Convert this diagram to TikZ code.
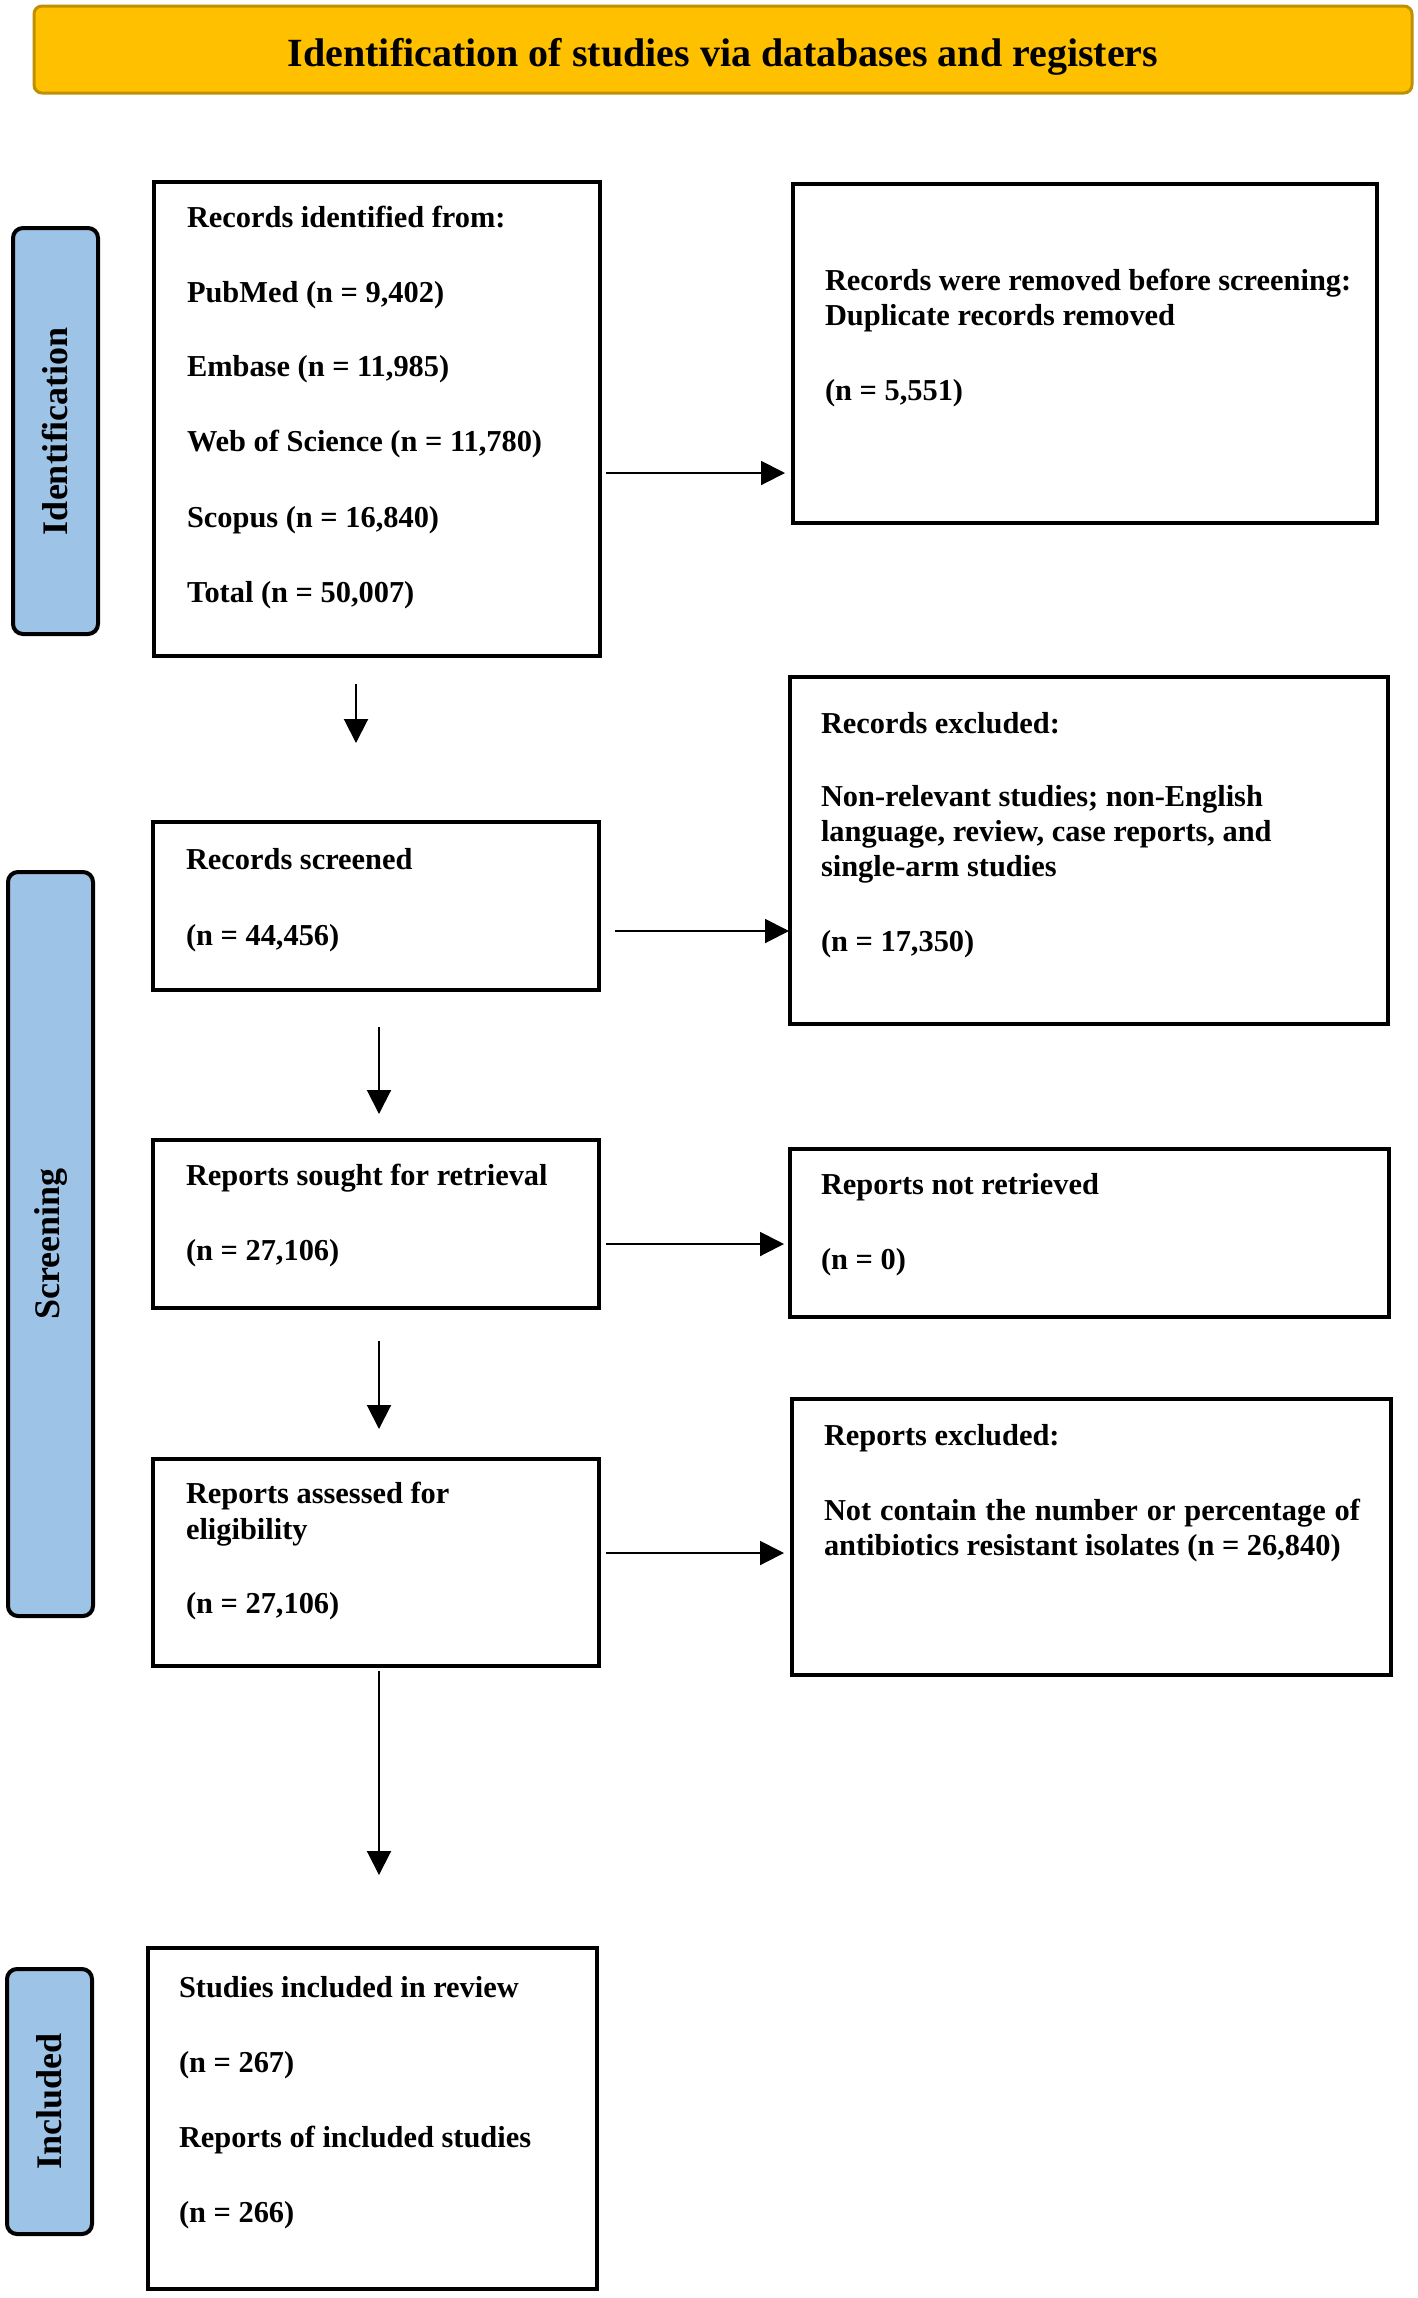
\documentclass[tikz,border=0pt]{standalone}
\usepackage{fontspec}
\setmainfont{Liberation Serif}
\usetikzlibrary{arrows.meta,fit}
\definecolor{titlefill}{HTML}{FFC000}
\definecolor{titleedge}{HTML}{BF9000}
\definecolor{stagefill}{HTML}{9DC3E6}
\begin{document}
\begin{tikzpicture}[x=0.5pt,y=-0.5pt,
  box/.style={draw=black, line width=1.75pt, inner sep=0pt, outer sep=0pt},
  stagebox/.style={draw=black, line width=2pt, fill=stagefill, rounded corners=5pt, inner sep=0pt, outer sep=0pt},
  titlebox/.style={draw=titleedge, line width=1.5pt, fill=titlefill, rounded corners=4pt, inner sep=0pt, outer sep=0pt},
  txt/.style={anchor=mid west, inner sep=0pt, outer sep=0pt, yshift=-1.5pt, font=\fontsize{15.2}{18}\selectfont\bfseries},
  stagetxt/.style={rotate=90, inner sep=0pt, font=\fontsize{18}{21}\selectfont\bfseries},
  titletxt/.style={inner sep=0pt, font=\fontsize{20}{24}\selectfont\bfseries},
  arr/.style={line width=1pt, -{Triangle[length=12pt,width=12pt]}}
]
\useasboundingbox (0,0) rectangle (1418,2298);
\fill[white] (0,0) rectangle (1418,2298);

% title
\node[titlebox, fit={(34,6) (1412,93)}] (title) {};
\node[titletxt] (titlet) at (723,57) {Identification of studies via databases and registers};

% stage labels
\node[stagebox, fit={(13,228) (98,634)}] (s1) {};
\node[stagetxt] (s1t) at (s1.center) {Identification};
\node[stagebox, fit={(8,872) (93,1616)}] (s2) {};
\node[stagetxt] (s2t) at (s2.center) {Screening};
\node[stagebox, fit={(7,1969) (92,2234)}] (s3) {};
\node[stagetxt] (s3t) at (s3.center) {Included};

% left boxes
\node[box, fit={(154,182) (600,656)}] (b1) {};
\node[txt] (b1a) at (187,220) {Records identified from:};
\node[txt] (b1b) at (187,295) {PubMed (n = 9,402)};
\node[txt] (b1c) at (187,369) {Embase (n = 11,985)};
\node[txt] (b1d) at (187,444) {Web of Science (n = 11,780)};
\node[txt] (b1e) at (187,520) {Scopus (n = 16,840)};
\node[txt] (b1f) at (187,595) {Total (n = 50,007)};

\node[box, fit={(153,822) (599,990)}] (b2) {};
\node[txt] (b2a) at (186,862) {Records screened};
\node[txt] (b2b) at (186,938) {(n = 44,456)};

\node[box, fit={(153,1140) (599,1308)}] (b3) {};
\node[txt] (b3a) at (186,1178) {Reports sought for retrieval};
\node[txt] (b3b) at (186,1253) {(n = 27,106)};

\node[box, fit={(153,1459) (599,1666)}] (b4) {};
\node[txt] (b4a) at (186,1496) {Reports assessed for};
\node[txt] (b4b) at (186,1532) {eligibility};
\node[txt] (b4c) at (186,1606) {(n = 27,106)};

\node[box, fit={(148,1948) (597,2289)}] (b5) {};
\node[txt] (b5a) at (179,1990) {Studies included in review};
\node[txt] (b5b) at (179,2065) {(n = 267)};
\node[txt] (b5c) at (179,2140) {Reports of included studies};
\node[txt] (b5d) at (179,2215) {(n = 266)};

% right boxes
\node[box, fit={(793,184) (1377,523)}] (r1) {};
\node[txt] (r1a) at (825,283) {Records were removed before screening:};
\node[txt] (r1b) at (825,318) {Duplicate records removed};
\node[txt] (r1c) at (825,393) {(n = 5,551)};

\node[box, fit={(790,677) (1388,1024)}] (r2) {};
\node[txt] (r2a) at (821,726) {Records excluded:};
\node[txt] (r2b) at (821,799) {Non-relevant studies; non-English};
\node[txt] (r2c) at (821,834) {language, review, case reports, and};
\node[txt] (r2d) at (821,869) {single-arm studies};
\node[txt] (r2e) at (821,944) {(n = 17,350)};

\node[box, fit={(790,1149) (1389,1317)}] (r3) {};
\node[txt] (r3a) at (821,1187) {Reports not retrieved};
\node[txt] (r3b) at (821,1262) {(n = 0)};

\node[box, fit={(792,1399) (1391,1675)}] (r4) {};
\node[txt] (r4a) at (824,1438) {Reports excluded:};
\node[txt] (r4b) at (824,1513) {\makebox[268pt][s]{Not contain the number or percentage of}};
\node[txt] (r4c) at (824,1548) {antibiotics resistant isolates (n = 26,840)};

% connectors
\draw[arr, shorten <=3pt, shorten >=4pt] (b1.east |- 0,473) -- (r1.west |- 0,473);
\draw[arr, shorten <=14pt, shorten >=39.5pt] (b1.south -| 356,0) -- (b2.north -| 356,0);
\draw[arr, shorten <=8pt, shorten >=0.5pt] (b2.east |- 0,931) -- (r2.west |- 0,931);
\draw[arr, shorten <=18.5pt, shorten >=13pt] (b2.south -| 379,0) -- (b3.north -| 379,0);
\draw[arr, shorten <=3.5pt, shorten >=3pt] (b3.east |- 0,1244) -- (r3.west |- 0,1244);
\draw[arr, shorten <=16.5pt, shorten >=15pt] (b3.south -| 379,0) -- (b4.north -| 379,0);
\draw[arr, shorten <=3.5pt, shorten >=4pt] (b4.east |- 0,1553) -- (r4.west |- 0,1553);
\draw[arr, shorten <=2.5pt, shorten >=36.5pt] (b4.south -| 379,0) -- (b5.north -| 379,0);
\end{tikzpicture}
\end{document}
